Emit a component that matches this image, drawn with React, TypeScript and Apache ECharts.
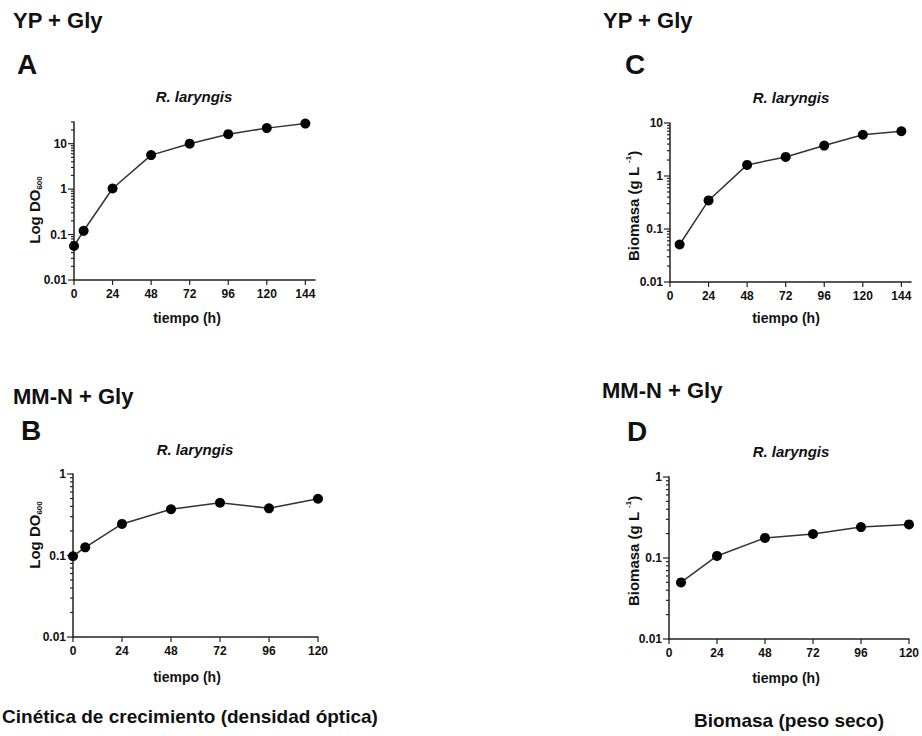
import React, { useEffect, useRef } from 'react';
import * as echarts from 'echarts';

// ---- data ----
const hoursA = [0, 6, 24, 48, 72, 96, 120, 144];
const odA = [0.056, 0.121, 1.03, 5.6, 10, 16.2, 22, 27.7];
const hoursB = [0, 6, 24, 48, 72, 96, 120];
const odB = [0.098, 0.126, 0.244, 0.369, 0.444, 0.379, 0.497];
const hoursC = [6, 24, 48, 72, 96, 120, 144];
const biomasaC = [0.051, 0.346, 1.62, 2.29, 3.75, 6.0, 7.0];
const hoursD = [6, 24, 48, 72, 96, 120];
const biomasaD = [0.05, 0.106, 0.177, 0.198, 0.241, 0.26];

const xTickValues = [0, 24, 48, 72, 96, 120, 144];
const yDecades = [0.01, 0.1, 1, 10];
const minorMultipliers = [2, 3, 4, 5, 6, 7, 8, 9];

const FONT = '"Liberation Sans", Arial, sans-serif';
const INK = '#111';
const AXIS = '#222';

type Panel = {
  left: number; top: number; width: number; height: number;
  xMax: number; yMax: number; xs: number[]; ys: number[];
};

const panels: Panel[] = [
  { left: 74, top: 122, width: 241, height: 158, xMax: 150, yMax: 30, xs: hoursA, ys: odA },
  { left: 73, top: 474, width: 245, height: 163, xMax: 120, yMax: 1, xs: hoursB, ys: odB },
  { left: 670, top: 123, width: 241, height: 159, xMax: 150, yMax: 10, xs: hoursC, ys: biomasaC },
  { left: 669, top: 477, width: 244, height: 162, xMax: 120, yMax: 1, xs: hoursD, ys: biomasaD },
];

function fmtLog(v: number): string {
  const l = Math.log10(v);
  const r = Math.round(l);
  if (Math.abs(l - r) > 1e-6) return '';
  if (r >= 0) return String(Math.round(Math.pow(10, r)));
  return Math.pow(10, r).toFixed(-r);
}

function tickData(p: Panel): number[][] {
  const out: number[][] = [];
  xTickValues.forEach((t) => { if (t <= p.xMax) out.push([t, 0.01, 0]); });
  yDecades.forEach((d) => {
    if (d <= p.yMax * 1.0001) out.push([0, d, 1]);
    minorMultipliers.forEach((m) => {
      const v = m * d;
      if (v <= p.yMax * 1.0001 && d < p.yMax) out.push([0, v, 2]);
    });
  });
  return out;
}

function textEl(text: string, x: number, y: number, size: number, extra: any = {}) {
  return {
    type: 'text', x, y, silent: true,
    style: {
      text, fill: INK, font: `${extra.italic ? 'italic ' : ''}bold ${size}px ${FONT}`,
      align: extra.align || 'center', verticalAlign: 'middle',
    },
  };
}

export default function App() {
  const ref = useRef<HTMLDivElement>(null);
  useEffect(() => {
    if (!ref.current) return;
    const chart = echarts.init(ref.current, undefined, { renderer: 'svg' });

    const grid = panels.map((p) => ({ left: p.left, top: p.top, width: p.width, height: p.height, containLabel: false }));
    const xAxis = panels.map((p, i) => ({
      type: 'value', gridIndex: i, min: 0, max: p.xMax, interval: 24,
      axisLine: { show: true, onZero: false, lineStyle: { color: AXIS, width: 1.5 } },
      axisTick: { show: false }, splitLine: { show: false },
      axisLabel: {
        color: INK, fontSize: 12, fontWeight: 'bold', fontFamily: FONT, margin: 8,
        formatter: (v: number) => (v % 24 === 0 ? String(v) : ''),
      },
    }));
    const yAxis = panels.map((p, i) => ({
      type: 'log', logBase: 10, gridIndex: i, min: 0.01, max: p.yMax,
      axisLine: { show: true, onZero: false, lineStyle: { color: AXIS, width: 1.5 } },
      axisTick: { show: false }, splitLine: { show: false }, minorTick: { show: false },
      axisLabel: {
        color: INK, fontSize: 12, fontWeight: 'bold', fontFamily: FONT, margin: 7,
        formatter: (v: number) => fmtLog(v),
      },
    }));

    const series: any[] = [];
    panels.forEach((p, i) => {
      series.push({
        type: 'custom', xAxisIndex: i, yAxisIndex: i, silent: true, clip: false,
        data: tickData(p),
        renderItem: (_params: any, api: any) => {
          const kind = api.value(2);
          const pt = api.coord([api.value(0), api.value(1)]);
          let shape;
          if (kind === 0) shape = { x1: pt[0], y1: pt[1], x2: pt[0], y2: pt[1] + 5 };
          else if (kind === 1) shape = { x1: pt[0] - 6, y1: pt[1], x2: pt[0], y2: pt[1] };
          else shape = { x1: pt[0] - 3, y1: pt[1], x2: pt[0], y2: pt[1] };
          return { type: 'line', shape, style: { stroke: AXIS, lineWidth: 1.2 } };
        },
      });
      series.push({
        type: 'line', xAxisIndex: i, yAxisIndex: i,
        data: p.xs.map((x, j) => [x, p.ys[j]]),
        symbol: 'circle', symbolSize: 10,
        itemStyle: { color: '#000' },
        lineStyle: { color: '#333', width: 1.5 },
        z: 3,
      });
    });

    const odTitle = (x: number, y: number) => ({
      type: 'text', x, y, rotation: Math.PI / 2, silent: true,
      style: {
        text: '{m|Log DO}{s|600}', align: 'center', verticalAlign: 'middle',
        rich: {
          m: { font: `bold 15px ${FONT}`, fill: INK, lineHeight: 18, verticalAlign: 'middle' },
          s: { font: `bold 8px ${FONT}`, fill: INK, lineHeight: 16, verticalAlign: 'bottom' },
        },
      },
    });
    const bioTitle = (x: number, y: number) => ({
      type: 'text', x, y, rotation: Math.PI / 2, silent: true,
      style: {
        text: '{m|Biomasa (g L }{s|-1}{m|)}', align: 'center', verticalAlign: 'middle',
        rich: {
          m: { font: `bold 15px ${FONT}`, fill: INK, lineHeight: 18, verticalAlign: 'middle' },
          s: { font: `bold 8px ${FONT}`, fill: INK, lineHeight: 14, verticalAlign: 'top' },
        },
      },
    });

    const graphic: any[] = [
      textEl('YP + Gly', 13, 20, 22, { align: 'left' }),
      textEl('YP + Gly', 603, 20, 22, { align: 'left' }),
      textEl('MM-N + Gly', 13, 396, 22, { align: 'left' }),
      textEl('MM-N + Gly', 602, 390, 22, { align: 'left' }),
      textEl('A', 17, 64, 28, { align: 'left' }),
      textEl('C', 625, 64, 28, { align: 'left' }),
      textEl('B', 21, 430, 28, { align: 'left' }),
      textEl('D', 627, 431, 28, { align: 'left' }),
      textEl('R. laryngis', 194, 96, 15, { italic: true }),
      textEl('R. laryngis', 195, 449, 15, { italic: true }),
      textEl('R. laryngis', 791, 97, 15, { italic: true }),
      textEl('R. laryngis', 791, 451, 15, { italic: true }),
      textEl('tiempo (h)', 187, 318, 14),
      textEl('tiempo (h)', 187, 677, 14),
      textEl('tiempo (h)', 786, 318, 14),
      textEl('tiempo (h)', 786, 678, 14),
      odTitle(34, 210),
      odTitle(34, 535),
      bioTitle(633, 206),
      bioTitle(633, 551),
      textEl('Cinética de crecimiento (densidad óptica)', 190, 716, 19),
      textEl('Biomasa (peso seco)', 789, 720, 19),
    ];

    chart.setOption({
      animation: false,
      backgroundColor: '#fff',
      grid, xAxis, yAxis, series, graphic,
    });
    return () => chart.dispose();
  }, []);

  return (
    <div
      ref={ref}
      style={{ position: 'fixed', left: 0, top: 0, width: 922, height: 736, background: '#fff' }}
    />
  );
}
